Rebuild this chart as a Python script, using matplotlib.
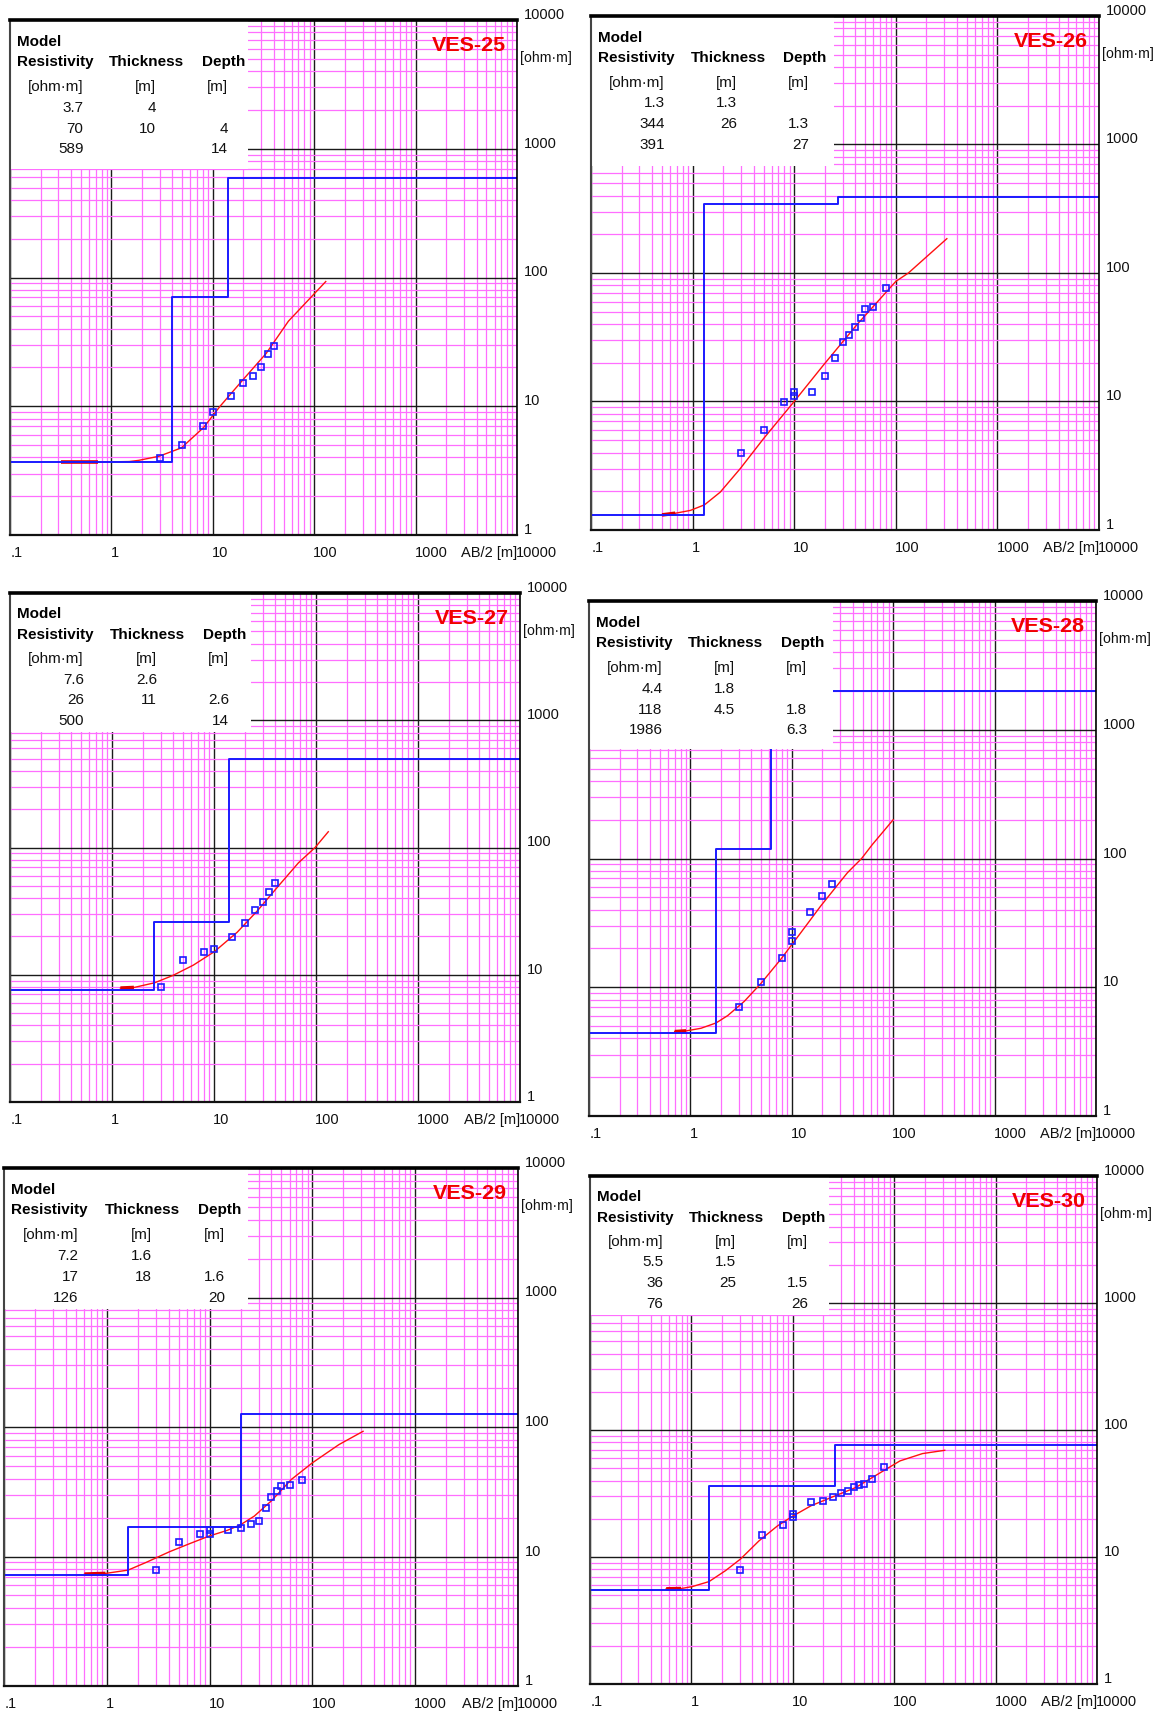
import numpy as np
import matplotlib
matplotlib.use("Agg")
import matplotlib.pyplot as plt
import matplotlib.transforms as mtransforms
from matplotlib import font_manager as fm
from matplotlib.patches import Rectangle
from matplotlib.ticker import LogLocator

# ---------------------------------------------------------------- data ----
stations = ["VES-25", "VES-26", "VES-27", "VES-28", "VES-29", "VES-30"]

# layered models: resistivity [ohm·m], thickness [m], depth to top [m]
res_25, thk_25, dep_25 = [3.7, 70, 589], [4, 10], [4, 14]
res_26, thk_26, dep_26 = [1.3, 344, 391], [1.3, 26], [1.3, 27]
res_27, thk_27, dep_27 = [7.6, 26, 500], [2.6, 11], [2.6, 14]
res_28, thk_28, dep_28 = [4.4, 118, 1986], [1.8, 4.5], [1.8, 6.3]
res_29, thk_29, dep_29 = [7.2, 17, 126], [1.6, 18], [1.6, 20]
res_30, thk_30, dep_30 = [5.5, 36, 76], [1.5, 25], [1.5, 26]

# field readings: AB/2 [m] and apparent resistivity [ohm·m]
ab2_obs_25 = [3, 5, 8, 10, 15, 20, 25, 30, 35, 40]
rho_obs_25 = [3.97, 4.99, 7.0, 9.1, 12.1, 15.1, 17.1, 20.0, 25.4, 29.2]
ab2_obs_26 = [3, 5, 8, 10, 10, 15, 20, 25, 30, 35, 40, 45, 50, 60, 80]
rho_obs_26 = [3.97, 5.97, 9.94, 11.9, 11.0, 11.9, 15.9, 21.9, 28.9, 33.0,
              38.1, 44.8, 52.3, 54.6, 76.8]
ab2_obs_27 = [3, 5, 8, 10, 15, 20, 25, 30, 35, 40]
rho_obs_27 = [8.04, 13.1, 15.0, 16.0, 19.9, 25.3, 32.2, 37.0, 44.9, 52.6]
ab2_obs_28 = [3, 5, 8, 10, 10, 15, 20, 25]
rho_obs_28 = [7.06, 11.0, 16.9, 22.9, 26.9, 38.2, 51.1, 63.3]
ab2_obs_29 = [3, 5, 8, 10, 10, 15, 20, 25, 30, 35, 40, 45, 50, 60, 80]
rho_obs_29 = [7.9, 12.9, 14.9, 15.9, 14.8, 15.9, 16.7, 17.8, 18.8, 23.8,
              28.8, 32.2, 35.0, 35.8, 38.7]
ab2_obs_30 = [3, 5, 8, 10, 10, 15, 20, 25, 30, 35, 40, 45, 50, 60, 80]
rho_obs_30 = [7.95, 15.0, 17.9, 21.8, 20.5, 26.9, 27.7, 29.8, 32.2, 33.0,
              35.3, 37.0, 37.9, 41.5, 51.5]

# calculated sounding curves of the models
ab2_fit_25 = [0.32, 0.74, 1.0, 1.5, 1.86, 2.95, 4.9, 8.1, 11.8, 20.3, 33.7, 55.7, 130]
rho_fit_25 = [3.69, 3.69, 3.7, 3.72, 3.8, 4.09, 4.75, 6.83, 10.0, 16.4, 25.8, 45.8, 93]
ab2_fit_26 = [0.50, 0.675, 0.95, 1.31, 1.87, 2.94, 4.99, 9.93, 19.4, 41.3, 100, 133, 318]
rho_fit_26 = [1.31, 1.35, 1.42, 1.57, 1.97, 3.0, 5.14, 9.94, 19.2, 39.5, 86, 100, 185]
ab2_fit_27 = [1.21, 1.64, 2.62, 3.96, 6.27, 10.1, 16.9, 26.8, 42.5, 67.2, 98, 132]
rho_fit_27 = [7.85, 7.94, 8.65, 9.88, 11.9, 15.2, 21.6, 32.0, 49.5, 75.7, 100, 133]
ab2_fit_28 = [0.70, 0.906, 1.27, 1.79, 2.33, 3.40, 4.96, 7.79, 12.3, 19.3, 35.3, 48.8, 62.1, 100]
rho_fit_28 = [4.52, 4.58, 4.80, 5.28, 6.02, 7.77, 10.7, 16.5, 26.6, 42.8, 77.4, 100, 128, 200]
ab2_fit_29 = [0.607, 0.97, 1.61, 2.41, 4.09, 6.45, 9.93, 14.8, 19.8, 27.2, 39.7,
              62.5, 100, 181, 311]
rho_fit_29 = [7.31, 7.40, 7.85, 9.0, 10.9, 12.6, 14.4, 15.9, 17.5, 20.5, 26.8,
              39.4, 52.9, 73.1, 92.6]
ab2_fit_30 = [0.564, 0.79, 1.02, 1.49, 2.17, 3.05, 4.64, 7.08, 9.91, 15.1, 25.1,
              41.6, 69.0, 114, 190, 315]
rho_fit_30 = [5.61, 5.64, 5.85, 6.4, 7.81, 9.64, 13.4, 17.6, 20.9, 25.3, 29.9,
              35.2, 44.9, 57.1, 65.2, 69.2]

x_ticks = [0.1, 1, 10, 100, 1000, 10000]
x_tick_labels = [".1", "1", "10", "100", "1000", "10000"]
y_ticks = [1, 10, 100, 1000, 10000]
y_tick_labels = ["1", "10", "100", "1000", "10000"]

models = [(res_25, thk_25, dep_25), (res_26, thk_26, dep_26), (res_27, thk_27, dep_27),
          (res_28, thk_28, dep_28), (res_29, thk_29, dep_29), (res_30, thk_30, dep_30)]
observed = [(ab2_obs_25, rho_obs_25), (ab2_obs_26, rho_obs_26), (ab2_obs_27, rho_obs_27),
            (ab2_obs_28, rho_obs_28), (ab2_obs_29, rho_obs_29), (ab2_obs_30, rho_obs_30)]
fitted = [(ab2_fit_25, rho_fit_25), (ab2_fit_26, rho_fit_26), (ab2_fit_27, rho_fit_27),
          (ab2_fit_28, rho_fit_28), (ab2_fit_29, rho_fit_29), (ab2_fit_30, rho_fit_30)]

# ---------------------------------------------------------------- fonts ---
available = {f.name for f in fm.fontManager.ttflist}
if "Liberation Sans Narrow" in available:
    FAMILY, K, KT = "Liberation Sans Narrow", 1.0, 1.0
else:
    FAMILY, K, KT = "Liberation Sans", 0.88, 0.86
plt.rcParams["font.family"] = [FAMILY, "DejaVu Sans"]

# --------------------------------------------------------------- layout ---
W, H = 1163, 1718
fig = plt.figure(figsize=(W / 100, H / 100), dpi=100)
fig.patch.set_facecolor("white")

# panel frames in pixels: left, right, top, bottom
frames = [(10, 517, 20, 535), (591, 1099, 16, 530),
          (10, 520, 593, 1102), (589, 1096, 601, 1116),
          (4, 518, 1168, 1686), (590, 1097, 1176, 1684)]
# size of the white model-table box (axes fraction)
boxes = [(0.467, 0.289), (0.477, 0.292), (0.471, 0.274),
         (0.480, 0.287), (0.473, 0.273), (0.469, 0.274)]

MAGENTA = "#ff6eff"
BLUE = "#1a1aff"
RED = "#ff1010"


def fmt(v):
    return "{:g}".format(v)


def px(dx, dy):
    return mtransforms.ScaledTranslation(dx / 100, dy / 100, fig.dpi_scale_trans)


for i, (l, r, t, b) in enumerate(frames):
    ax = fig.add_axes([l / W, 1 - b / H, (r - l) / W, (b - t) / H])
    ax.set_xscale("log")
    ax.set_yscale("log")
    ax.set_xlim(0.1, 1e4)
    ax.set_ylim(1, 1e4)
    for axis in (ax.xaxis, ax.yaxis):
        axis.set_major_locator(LogLocator(10, numticks=20))
        axis.set_minor_locator(LogLocator(10, subs=np.arange(2, 10), numticks=200))
    ax.set_axisbelow(True)
    ax.grid(which="minor", color=MAGENTA, lw=0.9)
    ax.grid(which="major", color="#1a1a1a", lw=1.0)
    ax.tick_params(which="both", length=0, labelbottom=False, labelleft=False,
                   labelright=False, labeltop=False)

    for side, lw, col in (("top", 2.6, "black"), ("right", 1.2, "black"),
                          ("bottom", 1.6, "#111111"), ("left", 1.5, "#444444")):
        ax.spines[side].set_linewidth(lw)
        ax.spines[side].set_color(col)
        ax.spines[side].set_zorder(6)

    res, thk, dep = models[i]
    # calculated curve (thin) with its heavier starting segment
    xf, yf = fitted[i]
    ax.plot(xf, yf, color=RED, lw=1.0, zorder=2)
    ax.plot(xf[:2], yf[:2], color="#e00000", lw=2.6, zorder=2,
            solid_capstyle="butt")

    # layered model as a step line
    mx, my = [0.1], [res[0]]
    for d, r0, r1 in zip(dep, res[:-1], res[1:]):
        mx += [d, d]
        my += [r0, r1]
    mx.append(1e4)
    my.append(res[-1])
    ax.plot(mx, my, color=BLUE, lw=1.4, zorder=2.2)

    # field data
    xo, yo = observed[i]
    ax.plot(xo, yo, ls="none", marker="s", ms=4.8, mfc="none", mec=BLUE,
            mew=1.2, zorder=2.4)

    # model table
    bw, bh = boxes[i]
    ax.add_patch(Rectangle((0.002, 1 - bh), bw, bh - 0.002, transform=ax.transAxes,
                           facecolor="white", edgecolor="none", zorder=3))
    fs = 12.5 * K
    hk = dict(transform=ax.transAxes, fontsize=fs, fontweight="bold", zorder=4,
              va="center", color="black")
    ax.text(0.013, 1 - 0.042, "Model", ha="left", **hk)
    ax.text(0.013, 1 - 0.082, "Resistivity", ha="left", **hk)
    ax.text(0.196, 1 - 0.082, "Thickness", ha="left", **hk)
    ax.text(0.378, 1 - 0.082, "Depth", ha="left", **hk)
    nk = dict(transform=ax.transAxes, fontsize=fs, zorder=4, va="center",
              ha="right", color="#111111")
    cols = (0.145, 0.288, 0.430)
    ax.text(cols[0], 1 - 0.130, "[ohm·m]", **nk)
    ax.text(cols[1], 1 - 0.130, "[m]", **nk)
    ax.text(cols[2], 1 - 0.130, "[m]", **nk)
    rows = (1 - 0.170, 1 - 0.211, 1 - 0.251)
    for j, rho in enumerate(res):
        ax.text(cols[0], rows[j], fmt(rho), **nk)
    for j, th in enumerate(thk):
        ax.text(cols[1], rows[j], fmt(th), **nk)
    for j, dp in enumerate(dep):
        ax.text(cols[2], rows[j + 1], fmt(dp), **nk)

    # station name
    ax.text(0.978, 1 - 0.05, stations[i], transform=ax.transAxes, ha="right",
            va="center", fontsize=18 * KT, fontweight="bold", color="#f00000",
            zorder=5)

    # axis annotations
    ytrans = mtransforms.blended_transform_factory(ax.transAxes, ax.transData)
    for v, lab in zip(y_ticks, y_tick_labels):
        ax.text(1, v, lab, transform=ytrans + px(7, 5), ha="left",
                va="center", fontsize=12 * K, color="#111111")
    ax.text(1, 0.926, "[ohm·m]", transform=ax.transAxes + px(3, 0),
            ha="left", va="center", fontsize=11.5 * K, color="#111111")

    xtrans = mtransforms.blended_transform_factory(ax.transData, ax.transAxes)
    for v, lab in zip(x_ticks, x_tick_labels):
        dx = 1 if v == x_ticks[0] else -1
        ax.text(v, 0, lab, transform=xtrans + px(dx, -18), ha="left",
                va="center", fontsize=12 * K, color="#111111")
    ax.text(x_ticks[-1], 0, "AB/2 [m]", transform=xtrans + px(0, -18),
            ha="right", va="center", fontsize=12 * K, color="#111111")

fig.savefig("out.png", dpi=100, facecolor="white")
